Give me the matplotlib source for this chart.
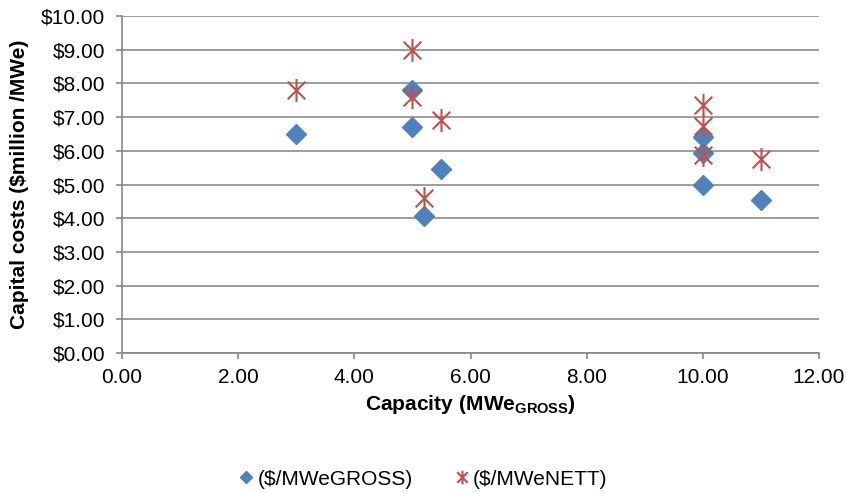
import numpy as np
import matplotlib.pyplot as plt
from matplotlib.path import Path
from matplotlib.ticker import FuncFormatter

plt.rcParams['font.family'] = ['Liberation Sans', 'DejaVu Sans']
plt.rcParams['mathtext.fontset'] = 'custom'
plt.rcParams['mathtext.rm'] = 'Liberation Sans'
plt.rcParams['mathtext.bf'] = 'Liberation Sans:bold'

# Datos
cap_gross = [3, 5, 5, 5.5, 5.2, 10, 10, 10, 11]
cost_gross = [6.50, 7.80, 6.70, 5.45, 4.08, 6.40, 5.93, 5.00, 4.55]

cap_nett = [3, 5, 5, 5.5, 5.2, 10, 10, 10, 11]
cost_nett = [7.80, 9.00, 7.60, 6.90, 4.60, 7.35, 6.73, 5.88, 5.75]

azul = '#4F81BD'
rojo = '#C0504D'

# Marcador asterisco tipo Excel (X + linea vertical)
estrella = Path([(-1, -1), (1, 1), (-1, 1), (1, -1), (0, -1.3), (0, 1.3)],
                [Path.MOVETO, Path.LINETO, Path.MOVETO, Path.LINETO, Path.MOVETO, Path.LINETO])

fig = plt.figure(figsize=(8.46, 4.93), dpi=100)
ax = fig.add_axes([122/846, 1-353/493, 697/846, 337/493])

ax.plot(cap_gross, cost_gross, linestyle='none', marker='D', markersize=10,
        color=azul, label='($/MWeGROSS)', zorder=3)
ax.plot(cap_nett, cost_nett, linestyle='none', marker=estrella, markersize=16.5,
        markerfacecolor='none', markeredgecolor=rojo, markeredgewidth=1.5,
        label='($/MWeNETT)', zorder=4)

ax.set_xlim(0, 12)
ax.set_ylim(0, 10)
ax.set_xticks(np.arange(0, 13, 2))
ax.set_yticks(np.arange(0, 11, 1))
ax.xaxis.set_major_formatter(FuncFormatter(lambda v, p: '%.2f' % v))
ax.yaxis.set_major_formatter(FuncFormatter(lambda v, p: '$%.2f' % v))
ax.tick_params(labelsize=15, color='#868686', length=4, width=1.2, direction='out')
ax.tick_params(axis='y', pad=8)
ax.tick_params(axis='x', pad=7)

ax.grid(axis='y', color='#8c8c8c', linewidth=1.2)
ax.set_axisbelow(True)
for s in ['top', 'right']:
    ax.spines[s].set_visible(False)
for s in ['left', 'bottom']:
    ax.spines[s].set_color('#868686')
    ax.spines[s].set_linewidth(1.2)

ax.set_ylabel('Capital costs ($million /MWe)', fontsize=15, fontweight='bold', labelpad=9)
ax.set_xlabel(r'$\mathbf{Capacity\ (MWe_{GROSS})}$', fontsize=15, labelpad=4)

leg = fig.legend(loc='center', bbox_to_anchor=(0.5, 0.028), ncol=2, frameon=False,
                 fontsize=15, markerscale=0.6, handlelength=0.7, handletextpad=0.2,
                 columnspacing=2.0)

fig.savefig('out.png', dpi=100)
